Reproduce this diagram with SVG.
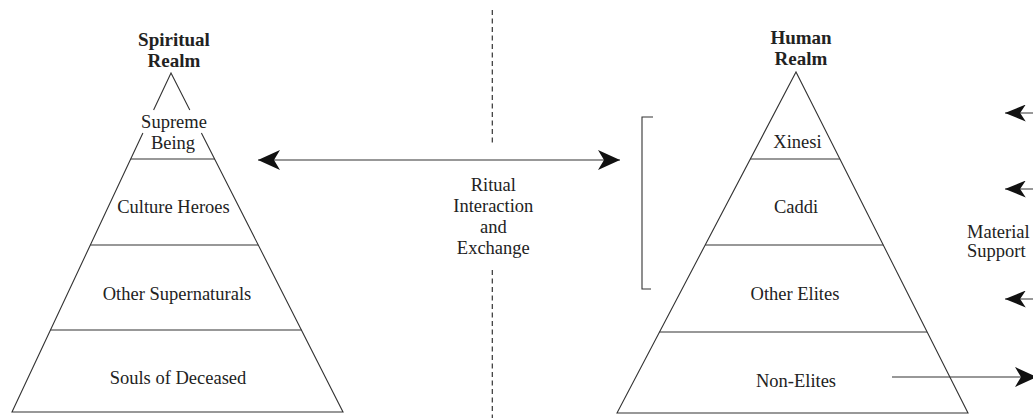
<svg xmlns="http://www.w3.org/2000/svg" width="1033" height="418" viewBox="0 0 1033 418">
<style>
.ln{stroke:#333;stroke-width:1.1;fill:none}
.t{font-family:"Liberation Serif","Times New Roman",serif;font-size:18.5px;fill:#222;text-anchor:middle}
.b{font-family:"Liberation Serif","Times New Roman",serif;font-size:19px;font-weight:bold;fill:#222;text-anchor:middle}
.l{text-anchor:start}
.dash{stroke:#333;stroke-width:1.2;stroke-dasharray:5 3.5;fill:none}
</style>
<defs>
<marker id="ah" viewBox="0 0 22 20" refX="22" refY="10" markerWidth="22" markerHeight="20" markerUnits="userSpaceOnUse" orient="auto-start-reverse">
<path d="M0,0 L22,10 L0,20 L6,10 Z" fill="#111"/>
</marker>
<marker id="ahs" viewBox="0 0 22 18" refX="22" refY="9" markerWidth="21" markerHeight="17" markerUnits="userSpaceOnUse" orient="auto-start-reverse">
<path d="M0,0 L22,9 L0,18 L6,9 Z" fill="#111"/>
</marker>
</defs>

<g id="spiritual-realm">
<text class="b" x="174" y="45.5">Spiritual</text>
<text class="b" x="174" y="66.5">Realm</text>
<path class="ln" d="M153.6,110 L171,73 L189.8,110 M142.9,133 L12,412 L343,412 L201.4,133"/>
<g id="supreme-being">
<line class="ln" x1="130.8" y1="159" x2="215" y2="159"/>
<text class="t" x="174" y="128">Supreme</text>
<text class="t" x="173" y="149">Being</text>
</g>
<g id="culture-heroes">
<line class="ln" x1="90.3" y1="245" x2="258.2" y2="245"/>
<text class="t" x="173.5" y="213">Culture Heroes</text>
</g>
<g id="other-supernaturals">
<line class="ln" x1="50.5" y1="330" x2="301.3" y2="330"/>
<text class="t" x="177" y="300">Other Supernaturals</text>
</g>
<g id="souls-of-deceased">
<text class="t" x="178" y="384">Souls of Deceased</text>
</g>
</g>

<g id="human-realm">
<text class="b" x="801" y="43.5">Human</text>
<text class="b" x="801" y="65">Realm</text>
<path class="ln" d="M617,413 L796,72 L968,413 Z"/>
<g id="xinesi">
<line class="ln" x1="750.3" y1="159" x2="839.8" y2="159"/>
<text class="t" x="797.5" y="147.5">Xinesi</text>
</g>
<g id="caddi">
<line class="ln" x1="705.2" y1="245" x2="883.2" y2="245"/>
<text class="t" x="796" y="213">Caddi</text>
</g>
<g id="other-elites">
<line class="ln" x1="659.5" y1="332" x2="927" y2="332"/>
<text class="t" x="795" y="300">Other Elites</text>
</g>
<g id="non-elites">
<text class="t" x="796" y="387">Non-Elites</text>
</g>
</g>

<g id="elite-bracket">
<path class="ln" d="M653,117 L642,117 L642,289 L651,289"/>
</g>

<g id="divider">
<line class="dash" x1="492.3" y1="10" x2="492.3" y2="143"/>
<line class="dash" x1="492.3" y1="270" x2="492.3" y2="418"/>
</g>

<g id="ritual-label">
<text class="t" x="493.3" y="191">Ritual</text>
<text class="t" x="493.3" y="212">Interaction</text>
<text class="t" x="493.3" y="233">and</text>
<text class="t" x="493.3" y="254">Exchange</text>
</g>

<g id="material-label">
<text class="t l" x="967" y="238">Material</text>
<text class="t l" x="967" y="257">Support</text>
</g>

<g id="connectors">
<line class="ln" x1="258" y1="160" x2="620" y2="160" marker-start="url(#ah)" marker-end="url(#ah)"/>
<line class="ln" x1="1040" y1="113" x2="1005" y2="113" marker-end="url(#ahs)"/>
<line class="ln" x1="1040" y1="189" x2="1005" y2="189" marker-end="url(#ahs)"/>
<line class="ln" x1="1040" y1="299" x2="1005" y2="299" marker-end="url(#ahs)"/>
<line class="ln" x1="892" y1="377" x2="1037" y2="377" marker-end="url(#ah)"/>
</g>
</svg>
